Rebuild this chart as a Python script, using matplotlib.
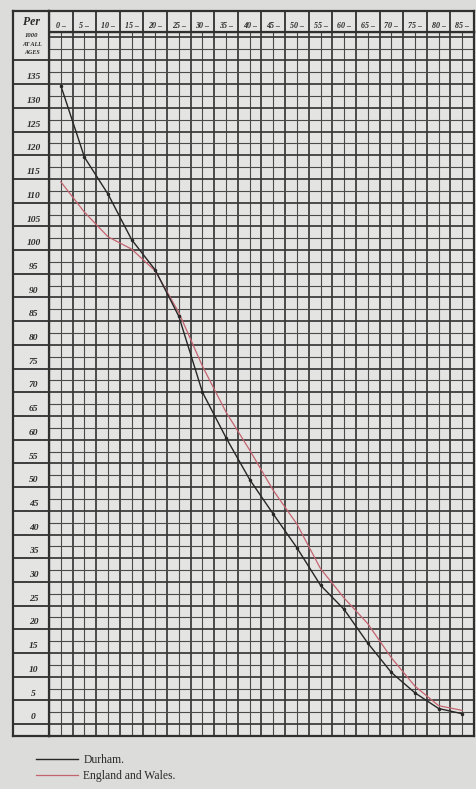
import matplotlib
matplotlib.use("Agg")
import matplotlib.pyplot as plt
from matplotlib.ticker import MultipleLocator

# ---------------- data ----------------
age_group_starts = [0, 5, 10, 15, 20, 25, 30, 35, 40, 45, 50, 55, 60, 65, 70, 75, 80, 85]
durham = [134.7, 119.6, 111.8, 102.2, 95.8, 86.0, 70.0, 60.4, 51.6, 44.3, 37.2, 29.3,
          24.2, 17.1, 10.9, 6.6, 3.3, 2.2]
england_wales = [114.4, 108.0, 102.8, 100.2, 95.6, 86.8, 75.5, 65.8, 57.8, 49.3, 42.2,
                 32.8, 26.6, 21.2, 14.0, 8.0, 3.9, 2.9]
header_labels = [f"{a} –" for a in age_group_starts]
y_label_values = list(range(135, -1, -5))
series_names = ["Durham.", "England and Wales."]
corner_title = ["Per", "1000", "AT ALL", "AGES"]

# ---------------- layout ----------------
W, H = 477, 789
fig = plt.figure(figsize=(W / 100, H / 100), dpi=100)
paper = "#dcdcda"
cell = "#e4e4e2"
ink = "#303030"
fig.patch.set_facecolor(paper)


def rect(x0, y0, x1, y1):
    return [x0 / W, 1 - y1 / H, (x1 - x0) / W, (y1 - y0) / H]


GX0, GX1 = 49, 474
HY0, HY1, GY1 = 11, 32, 736
LX0 = 13
Y_MIN, Y_MAX = -2.5, 146.0
X_MAX = 90
px_per_unit = (GY1 - HY1) / (Y_MAX - Y_MIN)

hand = dict(family="Liberation Serif", style="italic", color="#2a2a2a", weight="bold")

# ---------------- main grid ----------------
ax = fig.add_axes(rect(GX0, HY1, GX1, GY1))
ax.set_facecolor(cell)
ax.set_xlim(0, X_MAX)
ax.set_ylim(Y_MIN, Y_MAX)
ax.xaxis.set_major_locator(MultipleLocator(5))
ax.xaxis.set_minor_locator(MultipleLocator(2.5))
ax.yaxis.set_major_locator(MultipleLocator(5))
ax.yaxis.set_minor_locator(MultipleLocator(2.5))
ax.grid(which="major", color="#383838", lw=1.25)
ax.grid(which="minor", color="#4a4a4a", lw=0.8)
ax.tick_params(which="both", length=0, labelbottom=False, labelleft=False)
for s in ax.spines.values():
    s.set_linewidth(1.6)
    s.set_color(ink)
ax.set_axisbelow(True)

mid_ages = [a + 2.5 for a in age_group_starts]
l1, = ax.plot(mid_ages, durham, color="#262626", lw=1.0, marker="o", ms=1.5,
              zorder=5, clip_on=False)
l2, = ax.plot(mid_ages, england_wales, color="#c4646f", lw=0.9, zorder=4, clip_on=False)

# ---------------- header row (age groups) ----------------
axh = fig.add_axes(rect(GX0, HY0, GX1, HY1))
axh.set_facecolor(cell)
axh.set_xlim(0, X_MAX)
axh.set_ylim(0, 1)
axh.xaxis.set_major_locator(MultipleLocator(5))
axh.grid(axis="x", which="major", color=ink, lw=1.3)
axh.tick_params(length=0, labelbottom=False, labelleft=False)
axh.set_yticks([])
for s in axh.spines.values():
    s.set_linewidth(1.6)
    s.set_color(ink)
for a, lab in zip(age_group_starts, header_labels):
    axh.text(a + 2.5, 0.1, lab, ha="center", va="bottom", fontsize=5.8, **hand)

# ---------------- label column ----------------
axl = fig.add_axes(rect(LX0, HY0, GX0, GY1))
axl.set_facecolor(cell)
axl.set_xlim(0, 1)
top_y = Y_MAX + (HY1 - HY0) / px_per_unit
axl.set_ylim(Y_MIN, top_y)
axl.set_yticks(list(range(0, 141, 5)))
axl.grid(axis="y", color=ink, lw=1.3)
axl.tick_params(length=0, labelbottom=False, labelleft=False)
axl.set_xticks([])
for s in axl.spines.values():
    s.set_linewidth(1.6)
    s.set_color(ink)
for v in y_label_values:
    axl.text(0.57, v + 0.6, str(v), ha="center", va="bottom", fontsize=6.8, **hand)

axl.text(0.52, top_y - 1.0, corner_title[0], ha="center", va="top", fontsize=8.5, **hand)
axl.text(0.52, top_y - 4.6, corner_title[1], ha="center", va="top", fontsize=4.8, **hand)
axl.text(0.52, top_y - 6.5, corner_title[2], ha="center", va="top", fontsize=4.3, **hand)
axl.text(0.52, top_y - 8.3, corner_title[3], ha="center", va="top", fontsize=4.3, **hand)

# ---------------- legend ----------------
fig.legend([l1, l2], series_names, loc="upper left",
           bbox_to_anchor=(36 / W, 1 - 754 / H), frameon=False,
           prop=dict(family="Liberation Serif", size=8.4),
           labelcolor="#2a2a2a", handlelength=3.6, handletextpad=0.45,
           labelspacing=0.35, borderpad=0, borderaxespad=0)
for h in fig.legends[0].legend_handles:
    h.set_marker("")

fig.savefig("out.png", dpi=100, facecolor=paper)
